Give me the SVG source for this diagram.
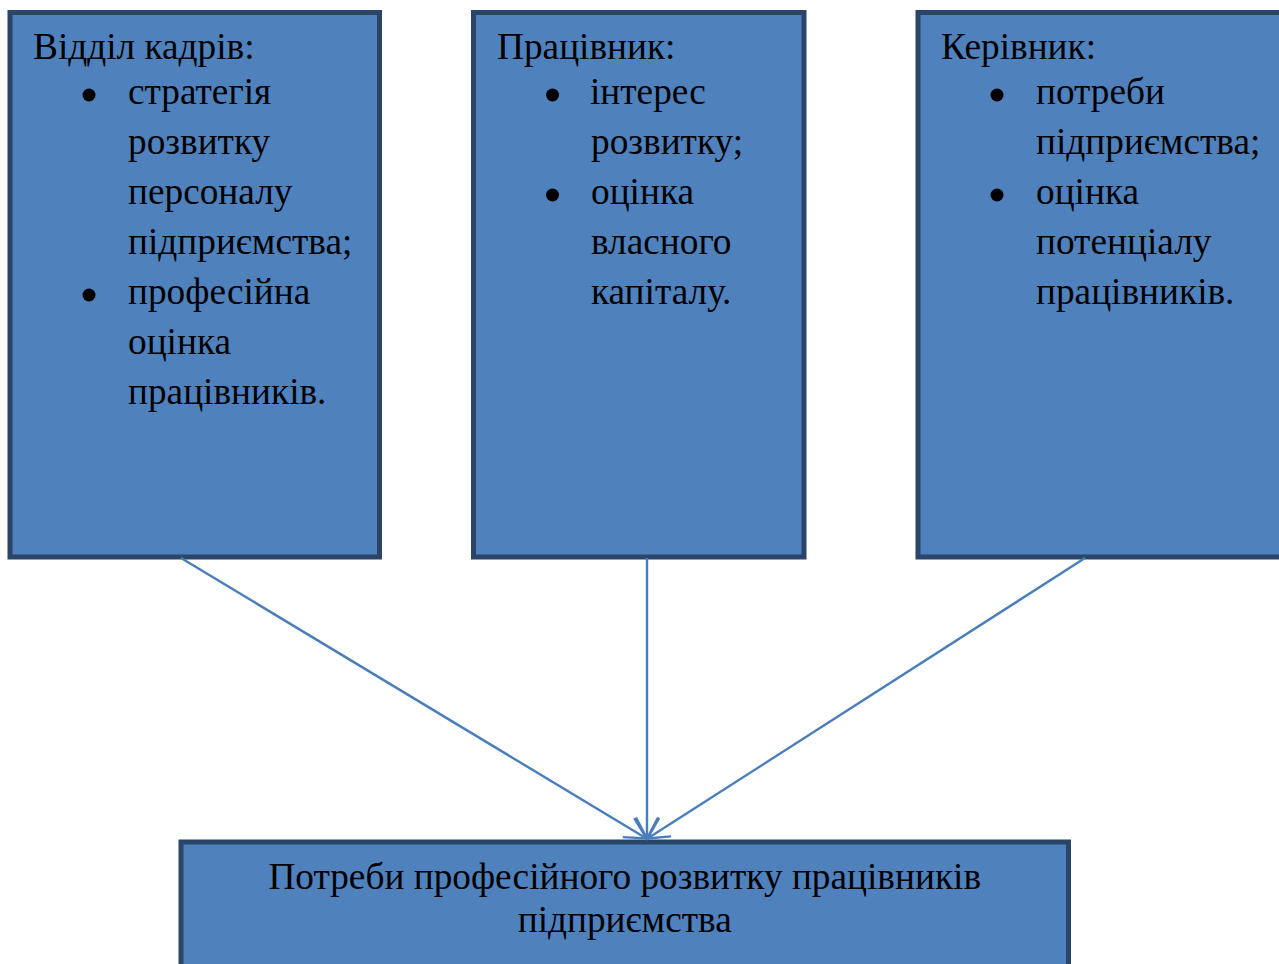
<svg xmlns="http://www.w3.org/2000/svg" width="1279" height="964" viewBox="0 0 1279 964">
<style>
.box{fill:#4f81bd;stroke:#2a4568;stroke-width:5}
.t{font-family:"Liberation Serif","Times New Roman",serif;font-size:37.3px;fill:#000}
.c{text-anchor:middle}
.conn{stroke:#4a7ebb;stroke-width:2.4;fill:none}
</style>
<defs>
<marker id="arr" markerUnits="userSpaceOnUse" markerWidth="40" markerHeight="40" viewBox="-30 -20 40 40" refX="0" refY="0" orient="auto">
<path d="M-21,-11 L0,0 L-21,11" fill="none" stroke="#4a7ebb" stroke-width="2.4"/>
</marker>
</defs>
<rect width="1279" height="964" fill="#fff"/>
<g id="node-hr">
<rect class="box" x="10" y="12.5" width="369.5" height="544.5"/>
<text class="t" x="33" y="59">Відділ кадрів:</text>
<circle cx="89" cy="95" r="6.5"/>
<text class="t" x="128" y="104">стратегія</text>
<text class="t" x="128" y="154">розвитку</text>
<text class="t" x="128" y="204">персоналу</text>
<text class="t" x="128" y="254">підприємства;</text>
<circle cx="89" cy="295" r="6.5"/>
<text class="t" x="128" y="304">професійна</text>
<text class="t" x="128" y="354">оцінка</text>
<text class="t" x="128" y="404">працівників.</text>
</g>
<g id="node-employee">
<rect class="box" x="473.5" y="12.5" width="330.5" height="544.5"/>
<text class="t" x="497" y="59">Працівник:</text>
<circle cx="552.5" cy="95" r="6.5"/>
<text class="t" x="590" y="104">інтерес</text>
<text class="t" x="591" y="154">розвитку;</text>
<circle cx="552.5" cy="195" r="6.5"/>
<text class="t" x="591" y="204">оцінка</text>
<text class="t" x="591" y="254">власного</text>
<text class="t" x="591" y="304">капіталу.</text>
</g>
<g id="node-manager">
<rect class="box" x="918" y="12.5" width="400" height="544.5"/>
<text class="t" x="941" y="59">Керівник:</text>
<circle cx="997" cy="95" r="6.5"/>
<text class="t" x="1036" y="104">потреби</text>
<text class="t" x="1036" y="154">підприємства;</text>
<circle cx="997" cy="195" r="6.5"/>
<text class="t" x="1036" y="204">оцінка</text>
<text class="t" x="1036" y="254">потенціалу</text>
<text class="t" x="1036" y="304">працівників.</text>
</g>
<g id="node-needs">
<rect class="box" x="181" y="842" width="887.5" height="200"/>
<text class="t c" x="624.7" y="889">Потреби професійного розвитку працівників</text>
<text class="t c" x="624.7" y="932">підприємства</text>
</g>
<g id="connectors">
<line class="conn" x1="181" y1="558" x2="646.5" y2="838.5" marker-end="url(#arr)"/>
<line class="conn" x1="647" y1="558" x2="647" y2="838.5" marker-end="url(#arr)"/>
<line class="conn" x1="1085" y1="558" x2="647.5" y2="838.5" marker-end="url(#arr)"/>
</g>
</svg>
